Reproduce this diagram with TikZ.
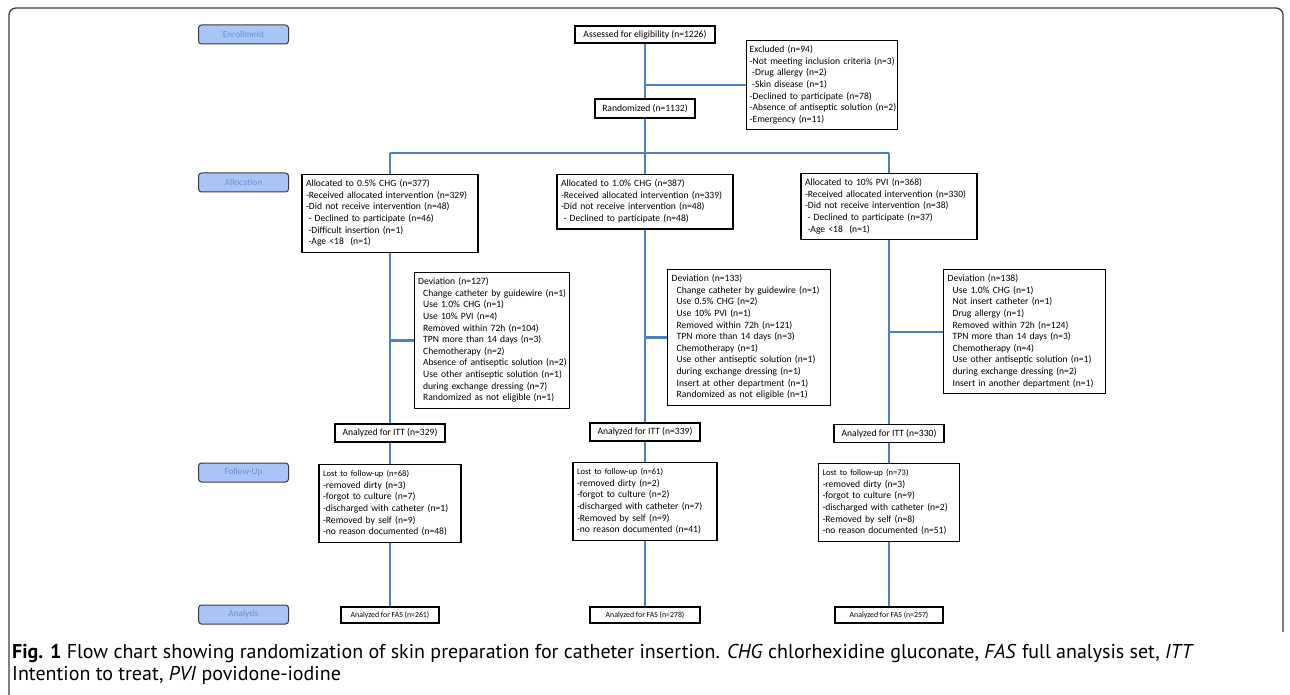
\documentclass[tikz,border=0pt]{standalone}
\usepackage{fontspec}
\setmainfont{Carlito}
\newfontfamily\capfont{PT Sans}
\usetikzlibrary{positioning}
\definecolor{flowblue}{HTML}{4F81BD}
\definecolor{phasefill}{HTML}{A9C5F5}
\definecolor{phasetext}{HTML}{6A90D4}
\definecolor{framegray}{HTML}{3A3A3A}
\newcommand{\dind}{\hspace*{5pt}}
\newcommand{\sind}{\hspace*{2.5pt}}
\newcommand{\boxlines}[1]{\begin{tabular}{@{}l@{}}#1\end{tabular}}

\begin{document}
\begin{tikzpicture}[x=1pt,y=-1pt,
	box/.style={draw, line width=1.3pt, align=left, anchor=north, inner xsep=4pt, inner ysep=4pt,
		font=\fontsize{9.6}{11.6}\selectfont},
	single/.style={draw, line width=1.3pt, inner sep=1pt, font=\fontsize{9.6}{11.6}\selectfont},
	phase/.style={draw=framegray, fill=phasefill, rounded corners=3pt, line width=1pt,
		minimum width=90pt, minimum height=19pt, inner sep=1pt, text=phasetext,
		font=\fontsize{9.2}{10}\selectfont},
	flow/.style={flowblue, line width=2.2pt}]
	\useasboundingbox (0,0) rectangle (1290,695);
	\draw[framegray, line width=1.3pt, rounded corners=7pt] (9,695) -- (9,8) -- (1283,8) -- (1283,632);

	% phases
	\node[phase] (enrol) at (243.5,34.5) {Enrollment};
	\node[phase] (alloc) at (243.5,182.5) {Allocation};
	\node[phase] (follow) at (243.5,472.5) {Follow-Up};
	\node[phase] (anal) at (243.5,614.5) {Analysis};

	% enrollment
	\node[single, minimum width=140pt, minimum height=17pt] (assess) at (645,34.5) {Assessed for eligibility (n=1226)};
	\node[box, anchor=north west, text width=145pt, inner xsep=3pt] (excl) at (746,40) {\boxlines{Excluded (n=94)\\
		-Not meeting inclusion criteria (n=3)\\
		\sind-Drug allergy (n=2)\\
		\sind-Skin disease (n=1)\\
		-Declined to participate (n=78)\\
		-Absence of antiseptic solution (n=2)\\
		-Emergency (n=11)}};
	\node[single, minimum width=100pt, minimum height=19pt] (rand) at (645,108.5) {Randomized (n=1132)};
	\coordinate (split) at (645,153);

	% allocation
	\node[box, text width=168pt] (al1) at (390,174) {\boxlines{Allocated to 0.5\% CHG (n=377)\\
		-Received allocated intervention (n=329)\\
		-Did not receive intervention (n=48)\\
		\sind- Declined to participate (n=46)\\
		\sind-Difficult insertion (n=1)\\
		\sind-Age <18~~(n=1)}};
	\node[box, text width=168pt] (al2) at (645,174) {\boxlines{Allocated to 1.0\% CHG (n=387)\\
		-Received allocated intervention (n=339)\\
		-Did not receive intervention (n=48)\\
		\sind- Declined to participate (n=48)}};
	\node[box, text width=168pt] (al3) at (889,173) {\boxlines{Allocated to 10\% PVI (n=368)\\
		-Received allocated intervention (n=330)\\
		-Did not receive intervention (n=38)\\
		\sind- Declined to participate (n=37)\\
		\sind-Age <18~~(n=1)}};

	% deviations
	\node[box, anchor=north west, text width=148pt, inner xsep=3.5pt] (dev1) at (414,272) {\boxlines{Deviation (n=127)\\
		\dind Change catheter by guidewire (n=1)\\
		\dind Use 1.0\% CHG (n=1)\\
		\dind Use 10\% PVI (n=4)\\
		\dind Removed within 72h (n=104)\\
		\dind TPN more than 14 days (n=3)\\
		\dind Chemotherapy (n=2)\\
		\dind Absence of antiseptic solution (n=2)\\
		\dind Use other antiseptic solution (n=1)\\
		\dind during exchange dressing (n=7)\\
		\dind Randomized as not eligible (n=1)}};
	\node[box, anchor=north west, text width=155pt] (dev2) at (667,269) {\boxlines{Deviation (n=133)\\
		\dind Change catheter by guidewire (n=1)\\
		\dind Use 0.5\% CHG (n=2)\\
		\dind Use 10\% PVI (n=1)\\
		\dind Removed within 72h (n=121)\\
		\dind TPN more than 14 days (n=3)\\
		\dind Chemotherapy (n=1)\\
		\dind Use other antiseptic solution (n=1)\\
		\dind during exchange dressing (n=1)\\
		\dind Insert at other department (n=1)\\
		\dind Randomized as not eligible (n=1)}};
	\node[box, anchor=north west, text width=154pt] (dev3) at (943,269) {\boxlines{Deviation (n=138)\\
		\dind Use 1.0\% CHG (n=1)\\
		\dind Not insert catheter (n=1)\\
		\dind Drug allergy (n=1)\\
		\dind Removed within 72h (n=124)\\
		\dind TPN more than 14 days (n=3)\\
		\dind Chemotherapy (n=4)\\
		\dind Use other antiseptic solution (n=1)\\
		\dind during exchange dressing (n=2)\\
		\dind Insert in another department (n=1)}};

	% intention to treat
	\node[single, minimum width=110pt, minimum height=18pt] (itt1) at (390,433) {Analyzed for ITT (n=329)};
	\node[single, minimum width=110pt, minimum height=18pt] (itt2) at (645,432) {Analyzed for ITT (n=339)};
	\node[single, minimum width=110pt, minimum height=18pt] (itt3) at (889,433.5) {Analyzed for ITT (n=330)};

	% follow-up
	\node[box, text width=134pt] (lost1) at (390,464) {\boxlines{{\fontsize{8.5}{11.6}\selectfont Lost to follow-up (n=68)}\\
		-removed dirty (n=3)\\
		-forgot to culture (n=7)\\
		-discharged with catheter (n=1)\\
		-Removed by self (n=9)\\
		-no reason documented (n=48)}};
	\node[box, text width=136pt] (lost2) at (645,462) {\boxlines{{\fontsize{8.5}{11.6}\selectfont Lost to follow-up (n=61)}\\
		-removed dirty (n=2)\\
		-forgot to culture (n=2)\\
		-discharged with catheter (n=7)\\
		-Removed by self (n=9)\\
		-no reason documented (n=41)}};
	\node[box, text width=133pt] (lost3) at (889,463) {\boxlines{{\fontsize{8.5}{11.6}\selectfont Lost to follow-up (n=73)}\\
		-removed dirty (n=3)\\
		-forgot to culture (n=9)\\
		-discharged with catheter (n=2)\\
		-Removed by self (n=8)\\
		-no reason documented (n=51)}};

	% full analysis set
	\node[single, minimum width=98pt, minimum height=16pt, font=\fontsize{7.8}{9}\selectfont] (fas1) at (390,615) {Analyzed for FAS (n=261)};
	\node[single, minimum width=110pt, minimum height=16pt, font=\fontsize{7.8}{9}\selectfont] (fas2) at (645,615) {Analyzed for FAS (n=278)};
	\node[single, minimum width=108pt, minimum height=16pt, font=\fontsize{7.8}{9}\selectfont] (fas3) at (889,615) {Analyzed for FAS (n=257)};

	% connectors
	\draw[flow] (assess) -- (rand);
	\draw[flow] (excl.west -| assess.south) -- (excl.west);
	\draw[flow] (rand) -- (split);
	\draw[flow] (split -| al1.north) -- (split -| al3.north);
	\foreach \c in {1,2,3} {
		\draw[flow] (split -| al\c.north) -- (al\c.north);
		\draw[flow] (al\c.south) -- (itt\c.north);
		\draw[flow] (dev\c.west -| al\c.south) -- (dev\c.west);
		\draw[flow] (itt\c.south) -- (lost\c.north);
		\draw[flow] (lost\c.south) -- (fas\c.north);
	}

	% caption
	\node[anchor=north west, align=left, inner sep=0pt, font=\capfont\fontsize{20}{22}\selectfont] (cap) at (12,644)
		{\textbf{Fig. 1} Flow chart showing randomization of skin preparation for catheter insertion. \textit{CHG} chlorhexidine gluconate, \textit{FAS} full analysis set, \textit{ITT}\\
		Intention to treat, \textit{PVI} povidone-iodine};
\end{tikzpicture}
\end{document}
